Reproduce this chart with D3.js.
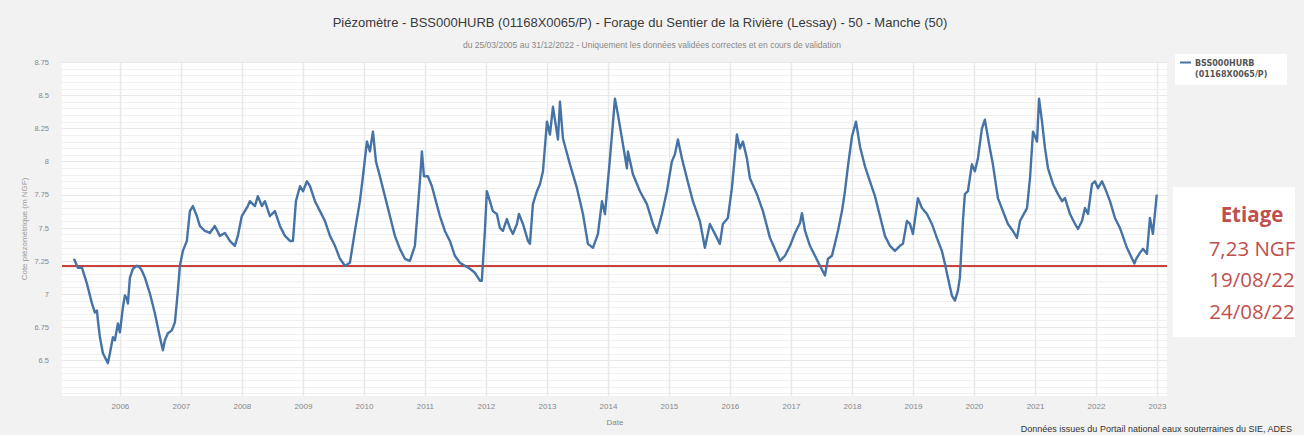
<!DOCTYPE html>
<html><head><meta charset="utf-8">
<script src="https://cdn.jsdelivr.net/npm/d3@7"></script>
<style>html,body{margin:0;padding:0;background:#f2f2f2;}svg{display:block;}</style>
</head><body>
<svg id="chart" width="1304" height="435"></svg>
<script>
// ---- Data ----
// time as decimal year, level in m NGF
const times = [
2005.246,2005.311,2005.377,2005.459,2005.541,2005.590,2005.623,2005.639,2005.672,2005.721,2005.803,2005.836,2005.885,2005.918,2005.967,
2006.000,2006.049,2006.082,2006.115,2006.131,2006.164,2006.213,2006.279,2006.328,2006.361,2006.410,2006.492,2006.574,2006.656,2006.705,2006.738,2006.787,2006.852,2006.902,2006.951,2006.984,
2007.033,2007.098,2007.148,2007.197,2007.262,2007.311,2007.393,2007.475,2007.557,2007.639,2007.721,2007.803,2007.885,2007.934,2007.967,
2008.000,2008.098,2008.131,2008.213,2008.262,2008.328,2008.377,2008.459,2008.541,2008.623,2008.705,2008.787,2008.836,2008.885,2008.951,
2009.000,2009.066,2009.115,2009.197,2009.279,2009.361,2009.443,2009.525,2009.607,2009.689,2009.770,2009.852,2009.934,2009.984,
2010.049,2010.098,2010.148,2010.197,2010.262,2010.344,2010.426,2010.508,2010.590,2010.672,2010.754,2010.836,2010.918,2010.951,2010.984,
2011.049,2011.115,2011.180,2011.246,2011.328,2011.410,2011.492,2011.574,2011.656,2011.738,2011.820,2011.902,2011.934,2011.984,
2012.016,2012.066,2012.115,2012.180,2012.230,2012.279,2012.344,2012.393,2012.443,2012.508,2012.541,2012.607,2012.689,2012.721,2012.770,2012.836,2012.885,2012.934,
2013.000,2013.049,2013.098,2013.180,2013.213,2013.262,2013.377,2013.492,2013.590,2013.672,2013.754,2013.836,2013.902,2013.951,
2014.033,2014.115,2014.164,2014.230,2014.311,2014.328,2014.410,2014.525,2014.639,2014.738,2014.803,2014.885,2014.967,
2015.049,2015.098,2015.148,2015.213,2015.295,2015.393,2015.508,2015.590,2015.672,2015.754,2015.836,2015.885,2015.967,
2016.033,2016.115,2016.164,2016.213,2016.279,2016.328,2016.443,2016.541,2016.656,2016.770,2016.820,2016.902,2016.984,
2017.066,2017.148,2017.180,2017.230,2017.311,2017.393,2017.475,2017.557,2017.607,2017.672,2017.770,2017.836,2017.885,2017.934,
2018.000,2018.066,2018.131,2018.213,2018.295,2018.377,2018.459,2018.541,2018.623,2018.705,2018.787,2018.836,2018.902,2018.951,
2019.000,2019.082,2019.148,2019.230,2019.311,2019.393,2019.475,2019.525,2019.574,2019.639,2019.689,2019.738,2019.770,2019.820,2019.852,2019.902,2019.967,
2020.016,2020.066,2020.131,2020.180,2020.213,2020.262,2020.311,2020.393,2020.475,2020.557,2020.639,2020.705,2020.754,2020.869,2020.918,2020.967,
2021.033,2021.066,2021.115,2021.164,2021.213,2021.295,2021.377,2021.443,2021.492,2021.574,2021.656,2021.705,2021.770,2021.820,2021.869,2021.934,2021.984,
2022.033,2022.098,2022.148,2022.230,2022.311,2022.393,2022.508,2022.630,2022.660,2022.721,2022.770,2022.836,2022.885,2022.934,2022.997
];
const levels = [
7.265,7.198,7.198,7.078,6.928,6.860,6.875,6.800,6.673,6.553,6.478,6.553,6.673,6.650,6.778,
6.710,6.898,6.988,6.965,6.928,7.123,7.190,7.213,7.198,7.175,7.123,7.003,6.853,6.673,6.575,6.650,6.703,6.725,6.785,7.025,7.213,
7.325,7.400,7.625,7.663,7.588,7.513,7.475,7.460,7.513,7.438,7.460,7.400,7.363,7.438,7.513,
7.588,7.663,7.700,7.663,7.738,7.663,7.700,7.588,7.625,7.513,7.438,7.400,7.400,7.700,7.813,
7.775,7.850,7.813,7.700,7.625,7.550,7.438,7.363,7.265,7.213,7.235,7.475,7.700,7.888,
8.150,8.075,8.225,8.000,7.888,7.738,7.588,7.438,7.340,7.265,7.250,7.363,7.850,8.075,7.888,
7.888,7.813,7.700,7.588,7.475,7.400,7.288,7.235,7.213,7.190,7.160,7.100,7.100,7.475,
7.775,7.700,7.625,7.603,7.498,7.475,7.565,7.498,7.453,7.528,7.603,7.528,7.400,7.378,7.678,7.775,7.828,7.925,
8.300,8.203,8.413,8.165,8.450,8.173,7.978,7.798,7.603,7.378,7.348,7.453,7.700,7.603,
8.023,8.473,8.353,8.173,7.948,8.075,7.903,7.775,7.678,7.528,7.460,7.603,7.775,
8.000,8.053,8.165,8.023,7.873,7.700,7.550,7.348,7.528,7.453,7.378,7.528,7.573,
7.798,8.203,8.098,8.150,8.023,7.873,7.753,7.625,7.423,7.303,7.250,7.288,7.363,
7.460,7.535,7.610,7.475,7.363,7.288,7.213,7.140,7.265,7.288,7.475,7.625,7.775,7.963,
8.188,8.300,8.113,7.963,7.850,7.738,7.588,7.438,7.363,7.325,7.363,7.378,7.550,7.528,
7.453,7.723,7.648,7.603,7.528,7.423,7.325,7.228,7.123,6.988,6.950,7.025,7.123,7.550,7.753,7.775,7.978,
7.925,8.023,8.248,8.315,8.225,8.098,7.978,7.723,7.625,7.528,7.475,7.423,7.550,7.648,7.873,8.225,
8.150,8.473,8.300,8.098,7.948,7.828,7.753,7.700,7.723,7.603,7.528,7.490,7.550,7.648,7.603,7.828,7.850,
7.798,7.850,7.798,7.700,7.573,7.498,7.348,7.230,7.265,7.310,7.340,7.303,7.573,7.453,7.750
];
const yTickValues = [6.5, 6.75, 7, 7.25, 7.5, 7.75, 8, 8.25, 8.5, 8.75];
const xTickYears = [2006,2007,2008,2009,2010,2011,2012,2013,2014,2015,2016,2017,2018,2019,2020,2021,2022,2023];
const etiageLevel = 7.21;
const etiageLabels = ["Etiage", "7,23 NGF", "19/08/22", "24/08/22"];
const seriesLabel = ["BSS000HURB", "(01168X0065/P)"];
const titleText = "Piézomètre - BSS000HURB (01168X0065/P) - Forage du Sentier de la Rivière (Lessay) - 50 - Manche (50)";
const subtitleText = "du 25/03/2005 au 31/12/2022 - Uniquement les données validées correctes et en cours de validation";
const yTitle = "Cote piézométrique (m NGF)";
const xTitle = "Date";
const creditText = "Données issues du Portail national eaux souterraines du SIE, ADES";

// ---- Rendering ----
function toDate(t){
  const yr = Math.floor(t);
  const s = new Date(yr,0,1), e = new Date(yr+1,0,1);
  return new Date(+s + (t-yr)*(e-s));
}
const data = times.map((t,i)=>({date:toDate(t), v:levels[i]}));

const svg = d3.select("#chart");
const L=62, R=1167, T=62, B=396;
const x = d3.scaleTime().domain([toDate(2005.05), toDate(2023.165)]).range([L,R]);
const y = d3.scaleLinear().domain([6.23, 8.75]).range([B,T]);

svg.append("rect").attr("width",1304).attr("height",435).attr("fill","#f2f2f2");
svg.append("rect").attr("x",L).attr("y",T).attr("width",R-L).attr("height",B-T).attr("fill","#ffffff");

// minor horizontal grid
const minor = d3.range(6.25, 8.751, 0.05);
svg.append("g").selectAll("line").data(minor).join("line")
  .attr("x1",L).attr("x2",R).attr("y1",d=>Math.round(y(d))+0.5).attr("y2",d=>Math.round(y(d))+0.5)
  .attr("stroke","#f0f0f0").attr("stroke-width",1);
svg.append("g").selectAll("line").data(yTickValues).join("line")
  .attr("x1",L).attr("x2",R).attr("y1",d=>Math.round(y(d))+0.5).attr("y2",d=>Math.round(y(d))+0.5)
  .attr("stroke","#e8e8e8").attr("stroke-width",1);
// vertical year grid
svg.append("g").selectAll("line").data(xTickYears).join("line")
  .attr("x1",d=>Math.round(x(new Date(d,0,1)))+0.5).attr("x2",d=>Math.round(x(new Date(d,0,1)))+0.5)
  .attr("y1",T).attr("y2",B).attr("stroke","#e9e9e9").attr("stroke-width",1.5);

// axes
const xAxis = d3.axisBottom(x).tickValues(xTickYears.map(yr=>new Date(yr,0,1)))
  .tickFormat(d3.timeFormat("%Y")).tickSize(0).tickPadding(7);
const gx = svg.append("g").attr("transform",`translate(0,${B})`).call(xAxis);
gx.select(".domain").remove();
gx.selectAll("text").attr("fill","#888").style("font-family","'Liberation Sans', Arial, sans-serif").style("font-size","8px");

const yAxis = d3.axisLeft(y).tickValues(yTickValues).tickFormat(d=>String(d)).tickSize(0).tickPadding(13);
const gy = svg.append("g").attr("transform",`translate(${L},0)`).call(yAxis);
gy.select(".domain").remove();
gy.selectAll("text").attr("fill","#888").style("font-family","'Liberation Sans', Arial, sans-serif").style("font-size","7.5px");

// etiage line
svg.append("line").attr("x1",L).attr("x2",R).attr("y1",y(etiageLevel)).attr("y2",y(etiageLevel))
  .attr("stroke","#c9403c").attr("stroke-width",2);

// series
const line = d3.line().x(d=>x(d.date)).y(d=>y(d.v));
svg.append("path").datum(data).attr("d",line).attr("fill","none")
  .attr("stroke","#4673a6").attr("stroke-width",2.4).attr("stroke-linejoin","round");

// titles
svg.append("text").attr("x",640).attr("y",27).attr("text-anchor","middle")
  .style("font-family","'Liberation Sans', Arial, sans-serif").style("font-size","13px").attr("fill","#3a3a3a").text(titleText);
svg.append("text").attr("x",652).attr("y",48).attr("text-anchor","middle")
  .style("font-family","'Liberation Sans', Arial, sans-serif").style("font-size","8.5px").attr("fill","#888").text(subtitleText);
svg.append("text").attr("transform",`translate(27,229) rotate(-90)`).attr("text-anchor","middle")
  .style("font-family","'Liberation Sans', Arial, sans-serif").style("font-size","8px").attr("fill","#999").text(yTitle);
svg.append("text").attr("x",615).attr("y",425).attr("text-anchor","middle")
  .style("font-family","'Liberation Sans', Arial, sans-serif").style("font-size","8px").attr("fill","#888").text(xTitle);
svg.append("text").attr("x",1292).attr("y",432).attr("text-anchor","end")
  .style("font-family","'Liberation Sans', Arial, sans-serif").style("font-size","9px").attr("fill","#333").text(creditText);

// legend
const lg = svg.append("g");
lg.append("rect").attr("x",1175).attr("y",54).attr("width",112).attr("height",31).attr("fill","#ffffff");
lg.append("line").attr("x1",1180).attr("x2",1191).attr("y1",62.5).attr("y2",62.5).attr("stroke","#4673a6").attr("stroke-width",2);
lg.selectAll("text").data(seriesLabel).join("text")
  .attr("x",1195).attr("y",(d,i)=>66+i*11)
  .style("font-family","'DejaVu Sans', sans-serif").style("font-size","8px").style("font-weight","bold")
  .attr("fill","#555").text(d=>d);

// etiage annotation box
const ab = svg.append("g");
ab.append("rect").attr("x",1173).attr("y",187).attr("width",122).attr("height",150).attr("fill","#ffffff");
ab.selectAll("text").data(etiageLabels).join("text")
  .attr("x",1252).attr("y",(d,i)=>[222,256,287,319][i]).attr("text-anchor","middle")
  .style("font-family","'Open Sans', sans-serif").style("font-size","20.5px")
  .style("font-weight",(d,i)=>i===0?"bold":"normal")
  .attr("fill","#c0504d").text(d=>d);
</script>
</body></html>
